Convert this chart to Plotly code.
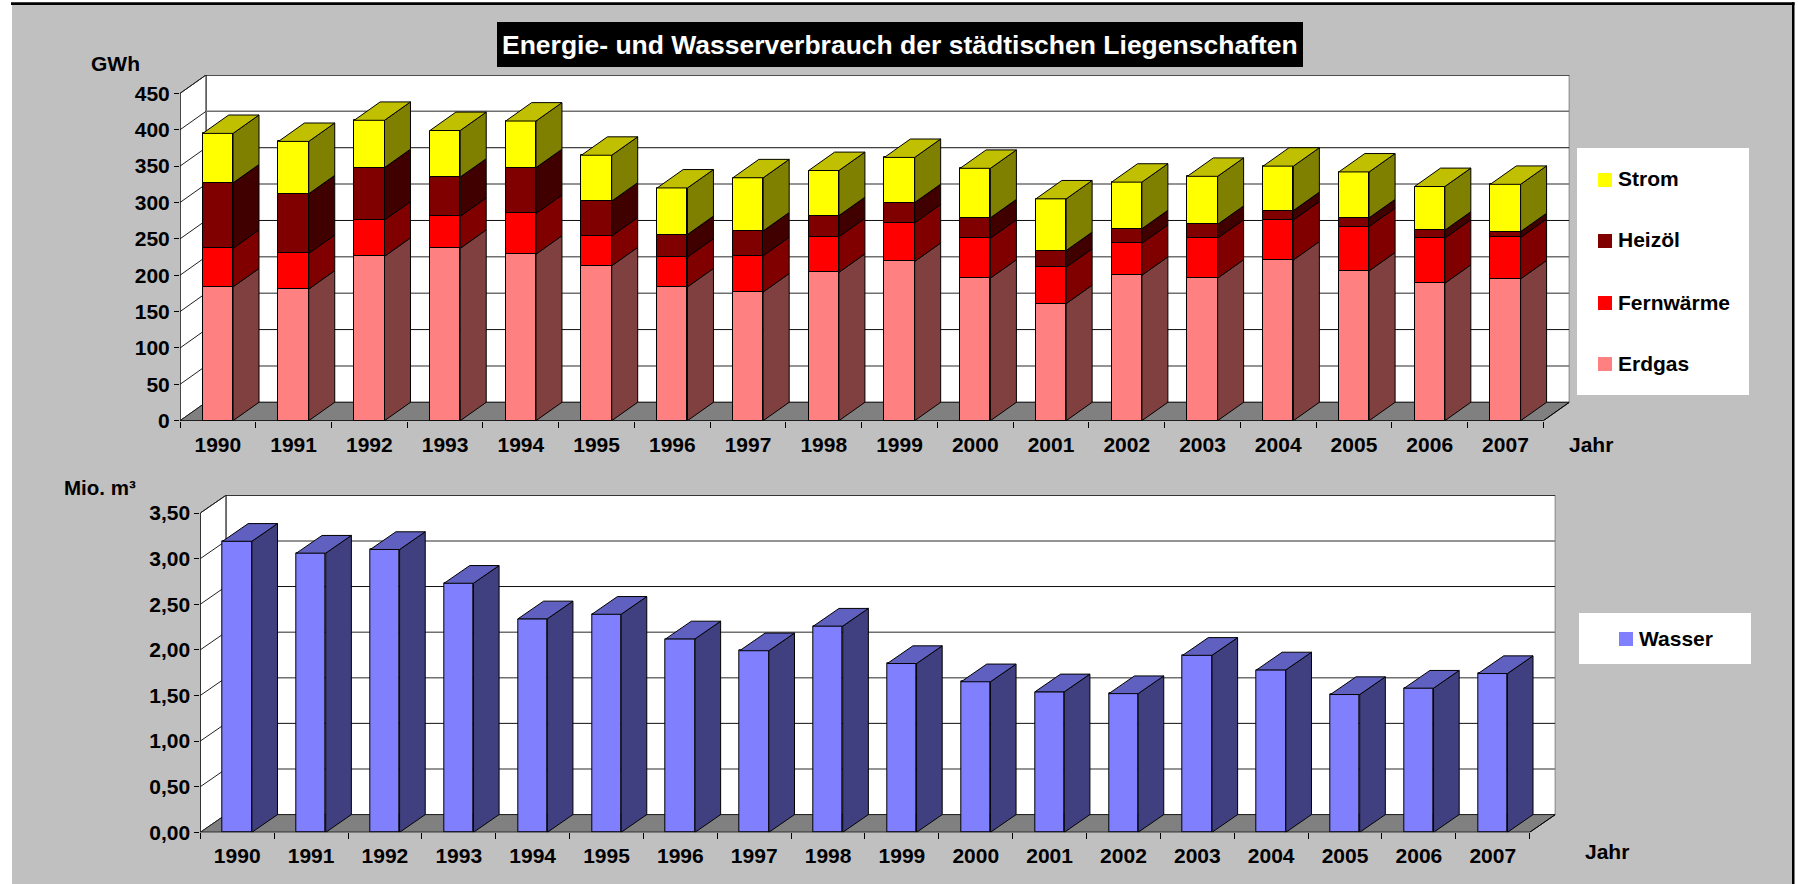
import plotly.graph_objects as go

# ---------- data ----------
years = list(range(1990, 2008))
erdgas = [184, 181, 226, 237, 229, 213, 184, 177, 204, 219, 196, 161, 200, 196, 221, 206, 189, 195]
fernwaerme = [53, 49, 50, 44, 56, 41, 41, 50, 49, 53, 55, 50, 44, 55, 55, 61, 62, 57]
heizoel = [90, 82, 72, 54, 63, 48, 31, 34, 29, 28, 28, 23, 20, 19, 13, 12, 11, 8]
strom = [68, 72, 65, 64, 64, 63, 64, 73, 62, 62, 68, 71, 64, 66, 61, 63, 60, 65]
wasser = [3.19, 3.06, 3.10, 2.73, 2.34, 2.39, 2.12, 1.99, 2.26, 1.85, 1.65, 1.54, 1.52, 1.94, 1.78, 1.51, 1.58, 1.74]
gwh_ticks = [0, 50, 100, 150, 200, 250, 300, 350, 400, 450]
m3_ticks = [0.0, 0.5, 1.0, 1.5, 2.0, 2.5, 3.0, 3.5]
energy_series = [
    ("Erdgas", erdgas, "#FF8080", "#804040", "#C06060"),
    ("Fernwärme", fernwaerme, "#FF0000", "#800000", "#C00000"),
    ("Heizöl", heizoel, "#800000", "#400000", "#600000"),
    ("Strom", strom, "#FFFF00", "#808000", "#C0C000"),
]
water_series = [("Wasser", wasser, "#8080FF", "#404080", "#6060C0")]

# ---------- page geometry (pixels) and styles ----------
W, H = 1798, 884
BG = "#C0C0C0"
FONT = "Liberation Sans, Arial, sans-serif"
TXT = 21
LEG = 21


def px(x):
    return x / W


def py(y):
    return 1 - y / H


panels = [
    dict(series=energy_series, ticks=gwh_ticks, xa="x", ya="y", xn="xaxis", yn="yaxis",
         left=180, right=1569.3, bottom=420.7, top=75, dx=0.343, dy=25.3, bw=0.40, fmt="d", standoff=5,
         dark={100, 250, 350, 450}),
    dict(series=water_series, ticks=m3_ticks, xa="x2", ya="y2", xn="xaxis2", yn="yaxis2",
         left=200.3, right=1555.3, bottom=832.3, top=495.3, dx=0.347, dy=0.194, bw=0.397, fmt=".2f", standoff=4,
         dark={1.0, 2.5, 3.5}),
]

fig = go.Figure()
shapes = []
n = len(years)
xs = list(range(n))
x0, x1 = -0.5, n - 0.5

# page: grey panel and black frame lines
shapes.append(dict(type="rect", xref="paper", yref="paper", x0=px(12), x1=px(1792), y0=py(5), y1=0,
                   fillcolor=BG, line_width=0, layer="below"))
shapes.append(dict(type="rect", xref="paper", yref="paper", x0=px(11), x1=px(1794.5), y0=py(2.3), y1=py(5),
                   fillcolor="black", line_width=0, layer="below"))
shapes.append(dict(type="rect", xref="paper", yref="paper", x0=px(1792), x1=px(1794.5), y0=py(2.3), y1=0,
                   fillcolor="black", line_width=0, layer="below"))

for p in panels:
    dx, dy, bw = p["dx"], p["dy"], p["bw"]
    xa, ya = p["xa"], p["ya"]
    vmax = p["ticks"][-1]
    ref = dict(xref=xa, yref=ya, layer="below")

    def poly(pts, fill, lw=1, color="#202020"):
        d = "M " + " L ".join(f"{a},{b}" for a, b in pts) + " Z"
        shapes.append(dict(type="path", path=d, fillcolor=fill, line=dict(color=color, width=lw), **ref))

    # walls and floor
    poly([(x0 + dx, dy), (x1 + dx, dy), (x1 + dx, vmax + dy), (x0 + dx, vmax + dy)], "white")
    poly([(x0, 0), (x0 + dx, dy), (x0 + dx, vmax + dy), (x0, vmax)], "white")
    poly([(x0, 0), (x1, 0), (x1 + dx, dy), (x0 + dx, dy)], "#808080")
    for v in p["ticks"][1:]:
        dark = v in p["dark"]
        col, lw = ("#101010", 1) if dark else ("#707070", 1.5)
        shapes.append(dict(type="line", x0=x0 + dx, x1=x1 + dx, y0=v + dy, y1=v + dy, line=dict(color=col, width=lw), **ref))
        shapes.append(dict(type="line", x0=x0, x1=x0 + dx, y0=v, y1=v + dy, line=dict(color="#202020", width=1), **ref))

    # stacked bars: front faces through bar traces, depth faces from the same values
    base = [0] * n
    for name, vals, front, side, top in p["series"]:
        fig.add_trace(go.Bar(x=xs, y=vals, base=base, name=name, width=bw, xaxis=xa, yaxis=ya,
                             marker=dict(color=front, line=dict(color="black", width=1)), showlegend=False))
        sx, sy = [], []
        for i in range(n):
            r = i + bw / 2
            lo, hi = base[i], base[i] + vals[i]
            sx += [r, r + dx, r + dx, r, r, None]
            sy += [lo, lo + dy, hi + dy, hi, lo, None]
        fig.add_trace(go.Scatter(x=sx, y=sy, mode="lines", fill="toself", fillcolor=side, xaxis=xa, yaxis=ya,
                                 line=dict(color="black", width=1), hoverinfo="skip", showlegend=False))
        base = [b + v for b, v in zip(base, vals)]
    name, vals, front, side, top = p["series"][-1]
    tx, ty = [], []
    for i in range(n):
        l, r = i - bw / 2, i + bw / 2
        h = base[i]
        tx += [l, r, r + dx, l + dx, l, None]
        ty += [h, h, h + dy, h + dy, h, None]
    fig.add_trace(go.Scatter(x=tx, y=ty, mode="lines", fill="toself", fillcolor=top, xaxis=xa, yaxis=ya,
                             line=dict(color="black", width=1), hoverinfo="skip", showlegend=False))
    # axis lines
    fig.add_trace(go.Scatter(x=[x0, x1, x1 + dx], y=[0, 0, dy], mode="lines", xaxis=xa, yaxis=ya,
                             line=dict(color="black", width=1), hoverinfo="skip", showlegend=False))
    fig.add_trace(go.Scatter(x=[x0, x0], y=[0, vmax], mode="lines", xaxis=xa, yaxis=ya,
                             line=dict(color="black", width=1), hoverinfo="skip", showlegend=False))

    tickfont = dict(family=FONT, size=TXT, color="black", weight=700)
    fig.update_layout(**{
        p["xn"]: dict(domain=[px(p["left"]), px(p["right"])], range=[x0, x1 + dx], anchor=ya, automargin=False,
                      tickmode="array", tickvals=xs, ticktext=[str(y) for y in years], tickfont=tickfont,
                      ticks="outside", ticklen=0, ticklabelstandoff=p["standoff"], tickangle=0,
                      minor=dict(tickmode="array", tickvals=[x0 + k for k in range(n + 1)], ticks="outside",
                                 ticklen=6, tickcolor="black", tickwidth=1, showgrid=False),
                      showgrid=False, zeroline=False, showline=False, fixedrange=True),
        p["yn"]: dict(domain=[py(p["bottom"]), py(p["top"])], range=[0, vmax + dy], anchor=xa, automargin=False,
                      tickmode="array", tickvals=p["ticks"], tickformat=p["fmt"], tickfont=tickfont,
                      ticks="outside", ticklen=5, tickcolor="black", tickwidth=1,
                      showgrid=False, zeroline=False, showline=False, fixedrange=True),
    })


# free text and legends (page pixels)
annots = []


def label(x, y, text, size=TXT, anchor="center", color="black"):
    annots.append(dict(xref="paper", yref="paper", x=px(x), y=py(y), text=f"<b>{text}</b>", showarrow=False,
                       xanchor=anchor, yanchor="middle", font=dict(family=FONT, size=size, color=color)))


label(115, 64, "GWh")
label(1590.7, 444, "Jahr")
label(100, 487, "Mio. m³", size=20.5)
label(1607, 851, "Jahr")
shapes.append(dict(type="rect", xref="paper", yref="paper", x0=px(497), x1=px(1303), y0=py(22), y1=py(67),
                   fillcolor="black", line_width=0, layer="below"))
label(900, 44.5, "Energie- und Wasserverbrauch der städtischen Liegenschaften", size=26.5, color="white")


def legend_box(x_a, x_b, y_a, y_b):
    shapes.append(dict(type="rect", xref="paper", yref="paper", x0=px(x_a), x1=px(x_b), y0=py(y_a), y1=py(y_b),
                       fillcolor="white", line_width=0, layer="below"))


def legend_item(sx, cy, name, color):
    shapes.append(dict(type="rect", xref="paper", yref="paper", x0=px(sx), x1=px(sx + 14), y0=py(cy - 7), y1=py(cy + 7),
                       fillcolor=color, line_width=0, layer="below"))
    label(sx + 17.7, cy - 1, name, size=LEG, anchor="left")


legend_box(1577, 1749, 148, 395)
for (name, _, color, _, _), cy in zip(reversed(energy_series), [180, 241, 303, 364]):
    legend_item(1598, cy, name, color)
legend_box(1579, 1751, 613, 664)
legend_item(1619, 639, water_series[0][0], water_series[0][2])

fig.update_layout(width=W, height=H, autosize=False, margin=dict(l=0, r=0, t=0, b=0, pad=0),
                  paper_bgcolor="white", plot_bgcolor="rgba(0,0,0,0)", barmode="overlay", separators=",.",
                  shapes=shapes, annotations=annots, showlegend=False, bargap=0)
fig.write_html("out.html", post_script="document.body.style.margin='0';document.body.style.overflow='hidden';",
               config=dict(displayModeBar=False))
